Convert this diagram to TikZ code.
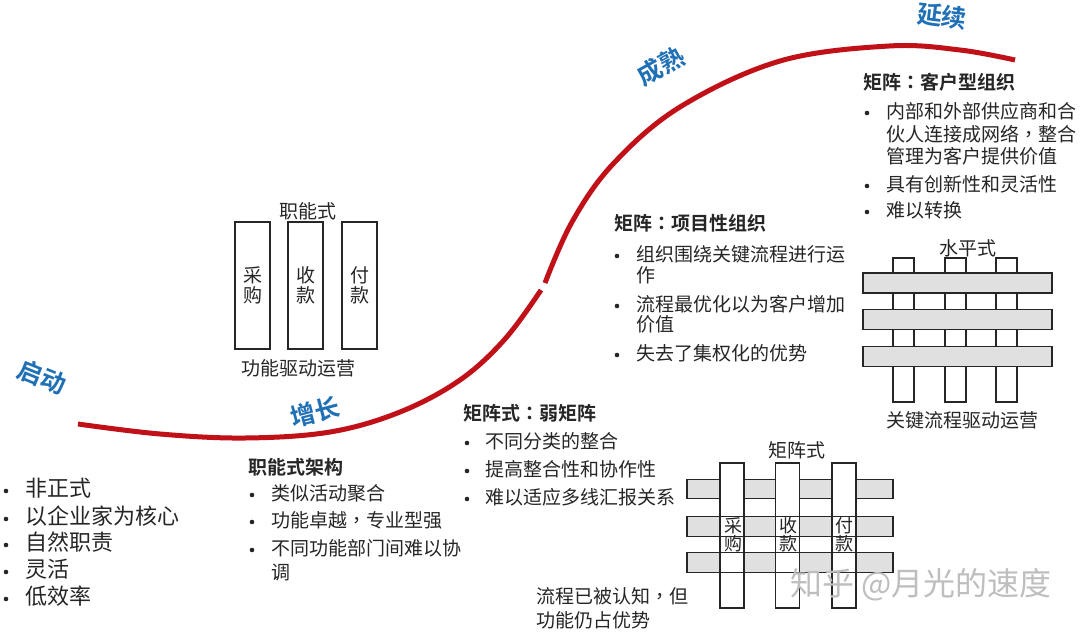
\documentclass[tikz,border=0pt]{standalone}
\usepackage{fontspec}
\newfontfamily\cjk{Noto Sans CJK SC}[BoldFont=* Bold]
\newfontfamily\cjktc{Noto Sans CJK TC}[BoldFont=* Bold]
\newcommand\pcolon{{\cjktc ：}}
\newcommand\pcomma{{\cjktc ，}}
\definecolor{txtc}{RGB}{38,38,38}
\definecolor{curvec}{RGB}{192,16,24}
\definecolor{stagec}{RGB}{32,112,182}
\definecolor{barc}{RGB}{224,224,224}
\definecolor{markc}{RGB}{190,190,190}
\begin{document}
\begin{tikzpicture}[x=1pt,y=-1pt,
  body/.style={font=\cjk\fontsize{19}{19}\selectfont, text=txtc, inner sep=0pt, text height=1.1em, text depth=0em, anchor=west},
  bigbody/.style={body, font=\cjk\fontsize{22}{22}\selectfont},
  head/.style={body, font=\cjk\bfseries\fontsize{19}{19}\selectfont},
  captxt/.style={body, anchor=center},
  dotb/.style={circle, fill=txtc, inner sep=0pt, minimum size=4.6pt},
  stage/.style={font=\cjk\bfseries\fontsize{25}{25}\selectfont, text=stagec, inner sep=0pt},
  colbox/.style={draw=black!85, line width=1.1pt, fill=white, inner sep=0pt, align=center,
     font=\cjk\fontsize{19}{20}\selectfont, text=txtc},
  hbar/.style={draw=black!85, line width=1.1pt, fill=barc, inner sep=0pt},
  vbar/.style={draw=black!85, line width=1.1pt, fill=white, inner sep=0pt},
  redline/.style={draw=curvec, line width=5pt}
]
\useasboundingbox (0,0) rectangle (1080,633);
\fill[white] (0,0) rectangle (1080,633);

% ---- S curve
\draw[redline] plot[smooth, tension=0.6] coordinates {(78,424) (160,434) (245,438) (330,432) (400,412) (460,380) (505,339) (541,290)};
\draw[redline] plot[smooth, tension=0.6] coordinates {(545,283) (572,222) (613,164) (680,107) (780,61) (889,46) (960,50) (1015,60)};

% ---- stage labels
\node[stage, rotate=-22] (s1) at (42,377) {启动};
\node[stage, rotate=15] (s2) at (315,412) {增长};
\node[stage, rotate=29] (s3) at (661,66) {成熟};
\node[stage, rotate=-7] (s4) at (942,16) {延续};

% ---- start list
\foreach \yy/\tt [count=\i] in {491/非正式, 519/以企业家为核心, 545/自然职责, 572/灵活, 599/低效率}{
  \node[dotb] (ad\i) at (6,\yy) {};
  \node[bigbody] (at\i) at (25,\yy) {\tt};
}

% ---- functional list
\node[head] (fh) at (248,469) {职能式架构};
\node[dotb] (fd1) at (252,495) {};
\node[body] (ft1) at (271,495) {类似活动聚合};
\node[dotb] (fd2) at (252,522) {};
\node[body] (ft2) at (271,522) {功能卓越\pcomma 专业型强};
\node[dotb] (fd3) at (252,550) {};
\node[body] (ft3) at (271,550) {不同功能部门间难以协};
\node[body] (ft3b) at (271,574) {调};

% ---- weak matrix list
\node[head] (wh) at (463,415) {矩阵式\pcolon 弱矩阵};
\node[dotb] (wd1) at (467,443) {};
\node[body] (wt1) at (485,443) {不同分类的整合};
\node[dotb] (wd2) at (467,471) {};
\node[body] (wt2) at (485,471) {提高整合性和协作性};
\node[dotb] (wd3) at (467,499) {};
\node[body] (wt3) at (485,499) {难以适应多线汇报关系};

% ---- project matrix list
\node[head] (ph) at (614,225) {矩阵\pcolon 项目性组织};
\node[dotb] (pd1) at (617,256) {};
\node[body] (pt1) at (636,256) {组织围绕关键流程进行运};
\node[body] (pt1b) at (636,277) {作};
\node[dotb] (pd2) at (617,306) {};
\node[body] (pt2) at (636,306) {流程最优化以为客户增加};
\node[body] (pt2b) at (636,326) {价值};
\node[dotb] (pd3) at (617,355) {};
\node[body] (pt3) at (636,355) {失去了集权化的优势};

% ---- customer matrix list
\node[head] (ch) at (863,84) {矩阵\pcolon 客户型组织};
\node[dotb] (cd1) at (867,113) {};
\node[body] (ct1) at (886,113) {内部和外部供应商和合};
\node[body] (ct1b) at (886,136) {伙人连接成网络\pcomma 整合};
\node[body] (ct1c) at (886,158) {管理为客户提供价值};
\node[dotb] (cd2) at (867,186) {};
\node[body] (ct2) at (886,186) {具有创新性和灵活性};
\node[dotb] (cd3) at (867,212) {};
\node[body] (ct3) at (886,212) {难以转换};

% ---- functional diagram
\node[captxt] (fcap) at (308,213) {职能式};
\node[colbox, minimum width=35pt, minimum height=127pt] (fb1) at (252.5,285.5) {采\\购};
\node[colbox, minimum width=35pt, minimum height=127pt] (fb2) at (305.5,285.5) {收\\款};
\node[colbox, minimum width=35pt, minimum height=127pt] (fb3) at (359.5,285.5) {付\\款};
\node[captxt] (fsub) at (298,370) {功能驱动运营};

% ---- horizontal diagram
\node[captxt] (hcap) at (968,250) {水平式};
\node[vbar, minimum width=21pt, minimum height=144pt] (hv1) at (903.5,330) {};
\node[vbar, minimum width=21pt, minimum height=144pt] (hv2) at (955.5,330) {};
\node[vbar, minimum width=21pt, minimum height=144pt] (hv3) at (1006.5,330) {};
\node[hbar, minimum width=189pt, minimum height=20pt] (hh1) at (957.5,283) {};
\node[hbar, minimum width=189pt, minimum height=20pt] (hh2) at (957.5,319.5) {};
\node[hbar, minimum width=189pt, minimum height=20pt] (hh3) at (957.5,356.5) {};
\node[captxt] (hsub) at (962,422) {关键流程驱动运营};

% ---- matrix diagram
\node[captxt] (mcap) at (797,452) {矩阵式};
\node[hbar, minimum width=206pt, minimum height=19.5pt] (mh1) at (790,489) {};
\node[hbar, minimum width=206pt, minimum height=19.5pt] (mh2) at (790,526.5) {};
\node[hbar, minimum width=206pt, minimum height=19.5pt] (mh3) at (790,562.5) {};
\node[vbar, minimum width=24pt, minimum height=145pt] (mv1) at (732,535.5) {};
\node[vbar, minimum width=24pt, minimum height=145pt] (mv2) at (787.5,535.5) {};
\node[vbar, minimum width=24pt, minimum height=145pt] (mv3) at (844,535.5) {};
\draw[black!85, line width=1.1pt] (mh2.north west) -- (mh2.north east) (mh2.south west) -- (mh2.south east);
\draw[black!85, line width=1.1pt] (mh3.north west) -- (mh3.north east) (mh3.south west) -- (mh3.south east);
\foreach \n/\a/\b/\xx in {m1/采/购/733, m2/收/款/788, m3/付/款/844}{
  \node[captxt, font=\cjk\fontsize{18}{18}\selectfont] (\n a) at (\xx,527) {\a};
  \node[captxt, font=\cjk\fontsize{18}{18}\selectfont] (\n b) at (\xx,545) {\b};
}
\node[body] (msub1) at (536,598) {流程已被认知\pcomma 但};
\node[body] (msub2) at (536,622) {功能仍占优势};

% ---- watermark
\node[body, font=\cjk\fontsize{32}{32}\selectfont, text=markc] (wm) at (790,590) {知乎 @月光的速度};
\end{tikzpicture}
\end{document}
